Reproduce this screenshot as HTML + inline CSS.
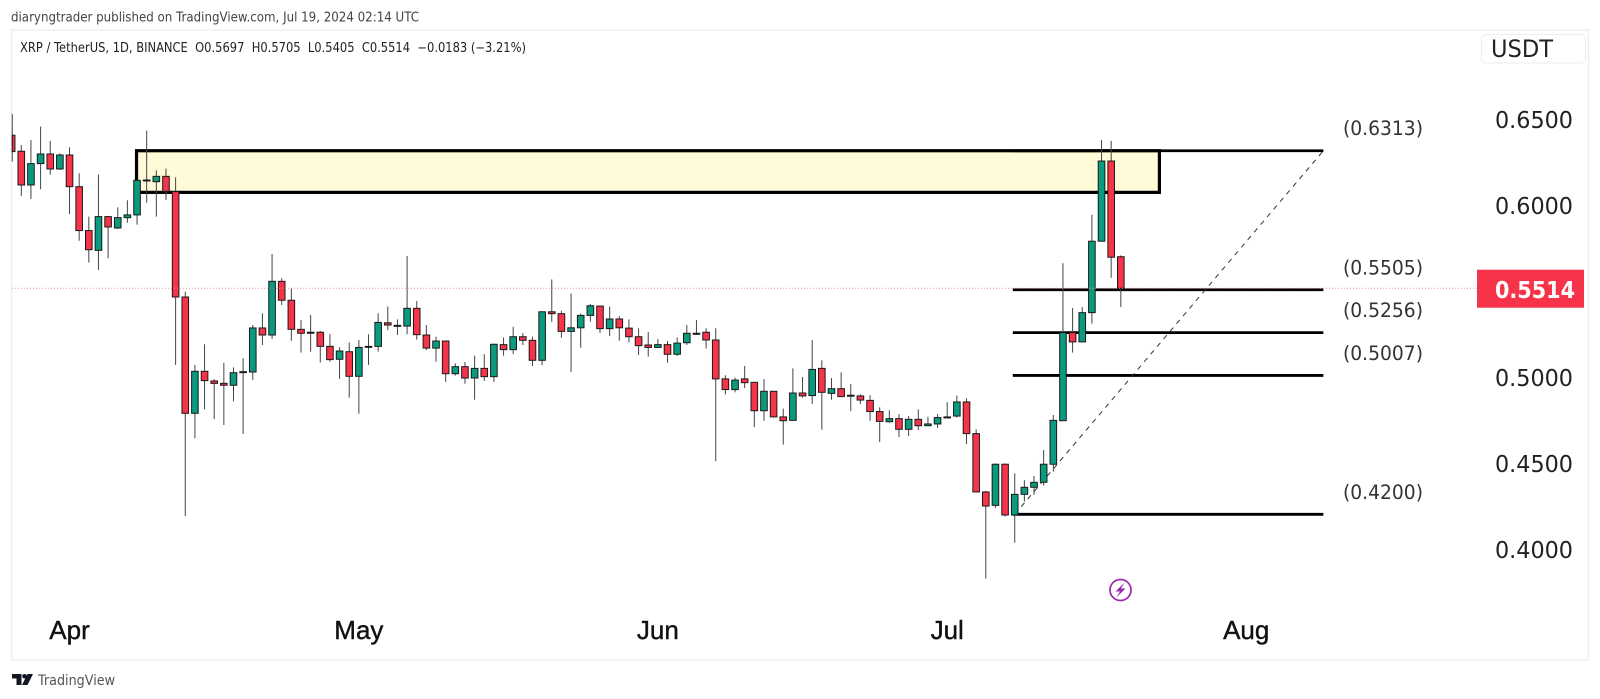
<!DOCTYPE html>
<html lang="en">
<head>
<meta charset="utf-8">
<title>XRP / TetherUS daily chart</title>
<style>
html,body{margin:0;padding:0;background:#fff;width:1600px;height:699px;overflow:hidden}
svg{display:block;font-family:"DejaVu Sans","Liberation Sans",sans-serif}
</style>
</head>
<body>
<svg id="chart" width="1600" height="699" viewBox="0 0 1600 699" xmlns="http://www.w3.org/2000/svg">
  <rect x="11.5" y="30" width="1577" height="630" fill="#fff" stroke="#eef0f6" stroke-width="1.5"/>
  <text x="11" y="21.5" font-size="13" fill="#444" textLength="408" lengthAdjust="spacingAndGlyphs">diaryngtrader published on TradingView.com, Jul 19, 2024 02:14 UTC</text>
  <text x="20" y="52" font-size="13" fill="#222" textLength="506" lengthAdjust="spacingAndGlyphs" xml:space="preserve">XRP / TetherUS, 1D, BINANCE  O0.5697  H0.5705  L0.5405  C0.5514  −0.0183 (−3.21%)</text>
  <g id="drawings"></g>
  <g id="candles"></g>
  <g id="overlay"></g>
  <rect x="1481.5" y="34.5" width="104" height="28.5" rx="5" fill="#fff" stroke="#eceef3" stroke-width="1"/>
  <text x="1491" y="57" font-size="24" fill="#222" textLength="62" lengthAdjust="spacingAndGlyphs">USDT</text>
  <g id="price-axis"></g>
  <g id="time-axis"></g>
  <g>
    <circle cx="1120.5" cy="590" r="10.5" fill="#fff" stroke="#9c27b0" stroke-width="1.7"/>
    <path d="M1124.5 582.5 L1115.5 591.5 L1120 591.5 L1116.5 597.5 L1125.5 588.5 L1121 588.5 Z" fill="#9c27b0"/>
  </g>
  <g>
    <path d="M12 674 H21.5 V685 H16.5 V678.5 H12 Z" fill="#131722"/>
    <circle cx="24.5" cy="676.3" r="2.3" fill="#131722"/>
    <path d="M27.5 674 H33 L27.5 685 H22 Z" fill="#131722"/>
    <text x="38" y="685" font-size="14" fill="#555" textLength="77" lengthAdjust="spacingAndGlyphs">TradingView</text>
  </g>
</svg>
<script>
var firstBarDate = '2024-03-26';
var opens = [.6403,.6310,.6114,.6238,.6294,.6207,.6288,.6104,.5849,.5734,
.5930,.5864,.5924,.5940,.6139,.6133,.6164,.6075,.5463,.4787,
.5031,.4975,.4961,.4950,.5025,.5027,.5283,.5242,.5554,.5444,
.5275,.5258,.5258,.5176,.5101,.5145,.5002,.5174,.5176,.5313,
.5298,.5294,.5397,.5242,.5166,.5207,.5017,.5058,.4992,.5048,
.5000,.5186,.5157,.5232,.5211,.5095,.5377,.5366,.5263,.5284,
.5356,.5410,.5279,.5335,.5282,.5232,.5184,.5170,.5186,.5130,
.5197,.5252,.5258,.5213,.4987,.4925,.4987,.4967,.4802,.4915,
.4766,.4746,.4905,.4890,.5048,.4903,.4930,.4892,.4888,.4862,
.4797,.4738,.4756,.4694,.4752,.4715,.4725,.4762,.4771,.4853,
.4669,.4330,.4252,.4491,.4196,.4316,.4357,.4386,.4491,.4744,
.5256,.5202,.5372,.5787,.6253,.5697];
var closes = [.6308,.6114,.6238,.6294,.6207,.6288,.6104,.5849,.5738,.5930,
.5870,.5924,.5940,.6141,.6143,.6164,.6077,.5463,.4787,.5031,
.4977,.4961,.4950,.5023,.5029,.5283,.5242,.5554,.5444,.5275,
.5252,.5254,.5176,.5099,.5149,.5002,.5170,.5176,.5315,.5300,
.5294,.5397,.5244,.5166,.5207,.5017,.5058,.4992,.5048,.5000,
.5188,.5157,.5232,.5211,.5095,.5377,.5366,.5263,.5284,.5356,
.5412,.5279,.5335,.5284,.5232,.5180,.5170,.5186,.5130,.5195,
.5252,.5250,.5213,.4987,.4925,.4980,.4965,.4802,.4915,.4766,
.4744,.4905,.4888,.5042,.4909,.4930,.4884,.4888,.4864,.4797,
.4740,.4756,.4694,.4752,.4715,.4725,.4762,.4766,.4853,.4669,
.4330,.4248,.4491,.4196,.4316,.4357,.4386,.4491,.4746,.5256,
.5202,.5372,.5787,.6253,.5694,.5514];
var highs = [.6527,.6346,.6375,.6453,.6370,.6298,.6333,.6182,.5930,.6174,
.5934,.5984,.6025,.6141,.6430,.6199,.6209,.6159,.5494,.5068,
.5188,.4985,.5080,.5054,.5107,.5300,.5368,.5713,.5572,.5513,
.5329,.5359,.5266,.5248,.5171,.5198,.5213,.5246,.5368,.5408,
.5333,.5701,.5439,.5300,.5232,.5209,.5077,.5085,.5122,.5131,
.5193,.5228,.5290,.5253,.5232,.5381,.5565,.5383,.5484,.5368,
.5422,.5414,.5408,.5352,.5333,.5281,.5259,.5219,.5207,.5228,
.5300,.5329,.5281,.5281,.5008,.4994,.5062,.4969,.4985,.4915,
.4814,.5048,.4998,.5213,.5095,.4992,.5025,.4957,.4897,.4892,
.4822,.4804,.4783,.4771,.4810,.4767,.4783,.4851,.4890,.4874,
.4694,.4336,.4496,.4496,.4438,.4398,.4423,.4574,.4777,.5659,
.5399,.5405,.5941,.6375,.6370,.5705];
var lows = [.6250,.6050,.6033,.6089,.6174,.6201,.5945,.5790,.5663,.5620,
.5688,.5858,.5895,.5883,.6011,.5930,.6027,.5068,.4190,.4642,
.4810,.4754,.4719,.4857,.4667,.4981,.5184,.5219,.5417,.5209,
.5140,.5145,.5082,.5087,.4987,.4878,.4785,.5068,.5145,.5271,
.5242,.5246,.5215,.5155,.5087,.4969,.5006,.4959,.4866,.4975,
.4969,.5122,.5131,.5184,.5062,.5066,.5319,.5226,.5027,.5168,
.5319,.5255,.5236,.5209,.5199,.5126,.5116,.5168,.5081,.5120,
.5184,.5242,.5163,.4508,.4897,.4909,.4934,.4707,.4744,.4762,
.4605,.4744,.4878,.4841,.4692,.4866,.4882,.4800,.4841,.4744,
.4620,.4733,.4649,.4655,.4690,.4713,.4702,.4758,.4762,.4609,
.4330,.3826,.4237,.4187,.4035,.4274,.4314,.4367,.4448,.4744,
.5140,.5202,.5308,.5787,.5575,.5405];
var priceTicks = [0.65, 0.60, 0.50, 0.45, 0.40];
var monthLabels = ['Apr', 'May', 'Jun', 'Jul', 'Aug'];
var monthStarts = ['2024-04-01', '2024-05-01', '2024-06-01', '2024-07-01', '2024-08-01'];
var fibLevels = [0.6313, 0.5505, 0.5256, 0.5007, 0.4200];
var lastPrice = 0.5514;
var zoneTop = 0.6313;
var zoneBottom = 0.6071;

var NS = 'http://www.w3.org/2000/svg';
function xAt(i) { return 11.65 + 9.645 * i; }
function yAt(p) { return 1237 - 1720.7 * p; }
function barIndex(d) { return Math.round((Date.parse(d) - Date.parse(firstBarDate)) / 86400000); }
function make(parent, tag, attrs, txt) {
  var el = document.createElementNS(NS, tag);
  for (var k in attrs) { el.setAttribute(k, attrs[k]); }
  if (txt !== undefined) { el.textContent = txt; }
  parent.appendChild(el);
  return el;
}
var UP = '#0a9a7e', DOWN = '#f7334a', INK = '#1a1a1a';
var gDraw = document.getElementById('drawings');
var gCandles = document.getElementById('candles');
var gOver = document.getElementById('overlay');
var gPrice = document.getElementById('price-axis');
var gTime = document.getElementById('time-axis');

// supply zone rectangle
var zone = make(gDraw, 'rect', {x: xAt(13) - 0.5, y: yAt(zoneTop), width: xAt(119) - xAt(13) + 0.5, height: yAt(zoneBottom) - yAt(zoneTop), fill: '#fffbd8', stroke: '#000', 'stroke-width': 3.2});



// fib levels
fibLevels.forEach(function (lvl) {
  var line = make(gDraw, 'line', {x1: xAt(103.8), x2: xAt(136), y1: yAt(lvl), y2: yAt(lvl), stroke: '#000', 'stroke-width': 2.8});
  
  
  var label = make(gDraw, 'text', {x: 1343, y: yAt(lvl) - 15.5, 'font-size': 19.5, fill: '#333', textLength: 80, lengthAdjust: 'spacingAndGlyphs'}, '(' + lvl.toFixed(4) + ')');
  
  
});

// trend connector
var trend = make(gDraw, 'line', {x1: xAt(104), y1: yAt(fibLevels[4]), x2: xAt(136), y2: yAt(fibLevels[0]), stroke: '#333', 'stroke-width': 1, 'stroke-dasharray': '5 5'});



// candles
opens.forEach(function (o, i) {
  var c = closes[i], up = c >= o, x = xAt(i);
  var top = yAt(Math.max(o, c)), bot = yAt(Math.min(o, c));
  var clipLeft = i === 0 ? 12.2 : x - 3.3;
  var group = make(gCandles, 'g', {});
  
  
  var wick = make(group, 'rect', {x: (i === 0 ? x + 0.6 : x) - 0.5, y: yAt(highs[i]), width: 1, height: yAt(lows[i]) - yAt(highs[i]), fill: '#444'});
  
  
  var body = make(group, 'rect', {x: clipLeft, y: top, width: x + 3.3 - clipLeft, height: Math.max(bot - top, 1), fill: up ? UP : DOWN, stroke: INK, 'stroke-width': 1});
  
  
});

// last price line
var lastLine = make(gOver, 'line', {x1: 12, x2: 1477, y1: yAt(lastPrice), y2: yAt(lastPrice), stroke: '#f58c97', 'stroke-width': 1, 'stroke-dasharray': '1 2'});



// price axis
priceTicks.forEach(function (p) {
  var t = make(gPrice, 'text', {x: 1495, y: yAt(p) + 9.5, 'font-size': 23.5, fill: '#222', textLength: 78, lengthAdjust: 'spacingAndGlyphs'}, p.toFixed(4));
  
  
});
var tag = make(gPrice, 'rect', {x: 1477, y: yAt(lastPrice) - 18.5, width: 107, height: 38, fill: '#f7334a'});


var tagText = make(gPrice, 'text', {x: 1495, y: yAt(lastPrice) + 10, 'font-size': 23.5, 'font-weight': 'bold', fill: '#fff', textLength: 80, lengthAdjust: 'spacingAndGlyphs'}, lastPrice.toFixed(4));



// time axis
monthLabels.forEach(function (m, i) {
  var t = make(gTime, 'text', {x: xAt(barIndex(monthStarts[i])), y: 639, 'font-size': 26, 'font-family': '"Liberation Sans", sans-serif', fill: '#111', 'text-anchor': 'middle', stroke: '#111', 'stroke-width': 0.4}, m);
  
  
});
</script>
</body>
</html>
